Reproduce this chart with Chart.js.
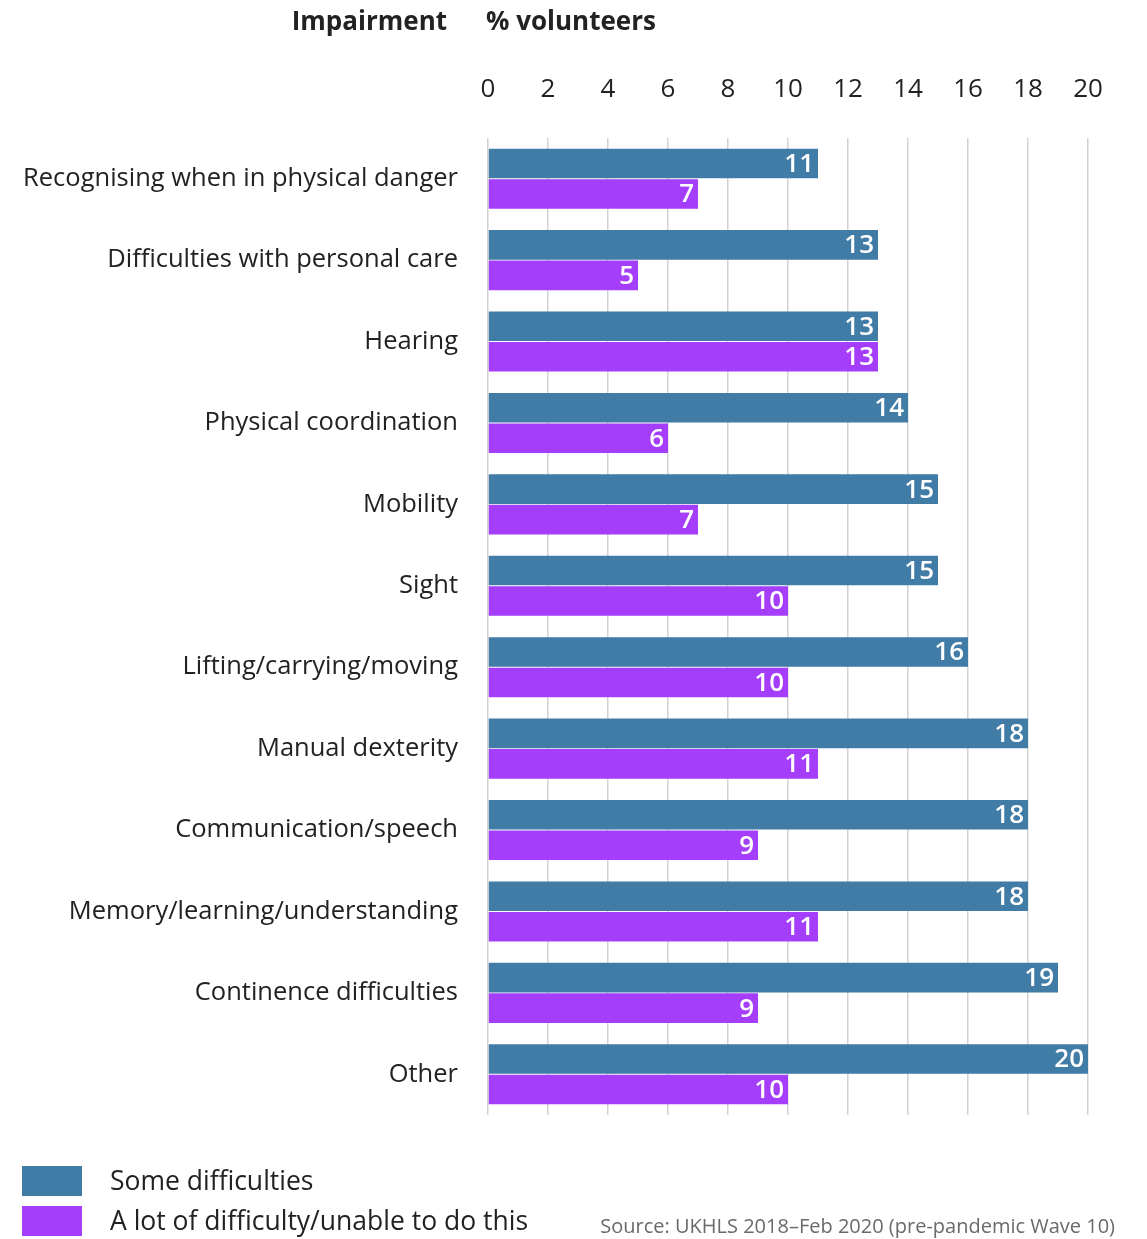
<!DOCTYPE html>
<html>
<head>
<meta charset="utf-8">
<script src="https://cdn.jsdelivr.net/npm/chart.js@4.4.0/dist/chart.umd.min.js"></script>
<style>
  html, body { margin: 0; padding: 0; background: #fff; }
  #wrap { width: 1147px; height: 1239px; }
</style>
</head>
<body>
<div id="wrap"><canvas id="impairChart"></canvas></div>
<script>
const categories = [
  'Recognising when in physical danger',
  'Difficulties with personal care',
  'Hearing',
  'Physical coordination',
  'Mobility',
  'Sight',
  'Lifting/carrying/moving',
  'Manual dexterity',
  'Communication/speech',
  'Memory/learning/understanding',
  'Continence difficulties',
  'Other'
];
const someDifficulties = [11, 13, 13, 14, 15, 15, 16, 18, 18, 18, 19, 20];
const aLotOfDifficulty = [7, 5, 13, 6, 7, 10, 10, 11, 9, 11, 9, 10];
const seriesNames = ['Some difficulties', 'A lot of difficulty/unable to do this'];
const xTickValues = [0, 2, 4, 6, 8, 10, 12, 14, 16, 18, 20];

const BLUE = '#407ca6';
const PURPLE = '#a43efa';
const FONT = "'Open Sans', 'Noto Sans', sans-serif";

// white value labels at the end of each bar
const valueLabels = {
  id: 'valueLabels',
  afterDatasetsDraw(chart) {
    const ctx = chart.ctx;
    ctx.save();
    ctx.font = '600 26px ' + FONT;
    ctx.fillStyle = '#fff';
    ctx.textAlign = 'right';
    ctx.textBaseline = 'middle';
    chart.data.datasets.forEach((ds, i) => {
      chart.getDatasetMeta(i).data.forEach((bar, j) => {
        ctx.fillText(ds.data[j], bar.x - 4, bar.y + 1);
      });
    });
    ctx.restore();
  }
};

// headers, legend and source line
const extras = {
  id: 'extras',
  afterDraw(chart) {
    const ctx = chart.ctx;
    const left = chart.chartArea.left;
    ctx.save();
    ctx.textBaseline = 'middle';
    ctx.fillStyle = '#222';
    ctx.font = 'bold 26px ' + FONT;
    ctx.textAlign = 'right';
    ctx.fillText('Impairment', left - 41, 23);
    ctx.textAlign = 'left';
    ctx.fillText('% volunteers', left - 2, 23);

    ctx.font = '26.5px ' + FONT;
    [BLUE, PURPLE].forEach((c, i) => {
      const y = 1166 + i * 40;
      ctx.fillStyle = c;
      ctx.fillRect(22, y, 60, 30);
      ctx.fillStyle = '#222';
      ctx.fillText(seriesNames[i], 110, y + 16);
    });

    ctx.font = '20px ' + FONT;
    ctx.fillStyle = '#6a6a6a';
    ctx.textAlign = 'right';
    ctx.fillText('Source: UKHLS 2018\u2013Feb 2020 (pre-pandemic Wave 10)', 1115, 1227);
    ctx.restore();
  }
};

new Chart(document.getElementById('impairChart'), {
  type: 'bar',
  data: {
    labels: categories,
    datasets: [
      { label: seriesNames[0], data: someDifficulties, backgroundColor: BLUE },
      { label: seriesNames[1], data: aLotOfDifficulty, backgroundColor: PURPLE }
    ]
  },
  options: {
    indexAxis: 'y',
    responsive: true,
    maintainAspectRatio: false,
    animation: false,
    categoryPercentage: 0.75,
    barPercentage: 0.97,
    layout: { padding: { top: 60, right: 29, bottom: 124, left: 0 } },
    plugins: { legend: { display: false }, tooltip: { enabled: false } },
    scales: {
      x: {
        position: 'top',
        min: 0,
        max: 21,
        afterBuildTicks(scale) {
          scale.ticks = xTickValues.map(v => ({ value: v }));
        },
        afterFit(scale) { scale.height = 78; },
        grid: { color: '#d2d2d2', lineWidth: 1.5, drawTicks: false },
        border: { display: false },
        ticks: { color: '#222', font: { family: FONT, size: 26 }, padding: 33 }
      },
      y: {
        afterFit(scale) { scale.width = 488; },
        grid: { display: false },
        border: { display: false },
        ticks: { color: '#222', font: { family: FONT, size: 25.5 }, padding: 22 }
      }
    }
  },
  plugins: [valueLabels, extras]
});
</script>
</body>
</html>
